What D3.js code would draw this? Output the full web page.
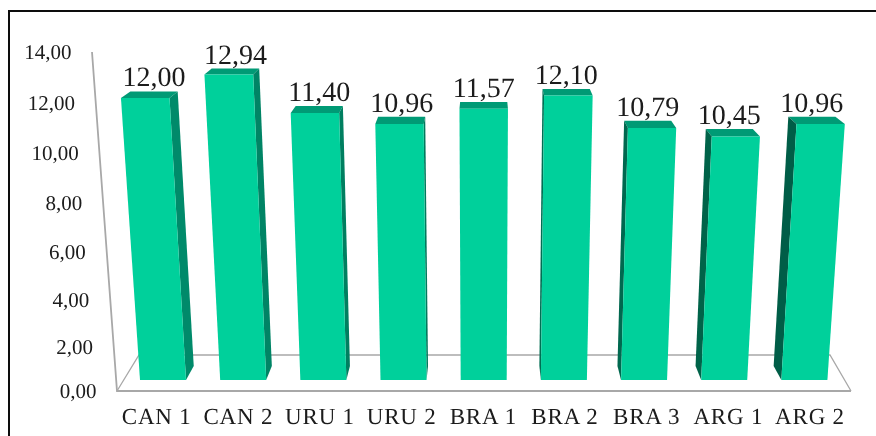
<!DOCTYPE html>
<html>
<head>
<meta charset="utf-8">
<script src="https://cdn.jsdelivr.net/npm/d3@7"></script>
<style>
  html, body { margin: 0; padding: 0; background: #fff; }
  svg { display: block; }
  text { font-family: "Liberation Serif", serif; fill: #1a1a1a; text-rendering: geometricPrecision; }
</style>
</head>
<body>
<svg id="chart"></svg>
<script>
// data //
const categories = ['CAN 1', 'CAN 2', 'URU 1', 'URU 2', 'BRA 1', 'BRA 2', 'BRA 3', 'ARG 1', 'ARG 2']
const values = [12.00, 12.94, 11.40, 10.96, 11.57, 12.10, 10.79, 10.45, 10.96]
const ticks = [0, 2, 4, 6, 8, 10, 12, 14]

const width = 876
const height = 436
const comma = d3.format('.2f')
const label = v => comma(v).replace('.', ',')

const svg = d3.select('#chart')
  .attr('width', width)
  .attr('height', height)

// the reference is a slightly soft scan
svg.append('defs').append('filter')
  .attr('id', 'soft')
  .append('feGaussianBlur')
  .attr('stdDeviation', 0.45)

const main = svg.append('g').attr('filter', 'url(#soft)')

// scales //
const x = d3.scaleBand().domain(categories).range([140, 827.4]).paddingInner(0.426)
const y = d3.scalePow().exponent(1.06).domain([0, 14]).range([380, 48])
const axisY = d3.scalePow().exponent(1.05).domain([0, 14]).range([391, 52])
const axisX = d3.scaleLinear().domain([0, 14]).range([117, 92])
const labelX = d3.scalePoint().domain(categories).range([156.7, 810])

// perspective, the fake 3d camera of the original //
const vanish = { x: 483.5, y: -155 }
const lean = v => 1 + 0.00462 * v
const depth = 0.026
const front = (px, v) => [vanish.x + (px - vanish.x) * lean(v), y(v)]
const back = (px, v) => {
  const [fx, fy] = front(px, v)
  return [fx + (vanish.x - fx) * depth, fy + (vanish.y - fy) * depth]
}
const poly = pts => pts.map(p => p.join(',')).join(' ')

// frame //
main.append('path')
  .attr('d', d3.line()([[9, height + 4], [9, 11], [width + 4, 11]]))
  .attr('fill', 'none')
  .attr('stroke', '#111')
  .attr('stroke-width', 2)

// floor and wall //
const wallColor = '#a8a8a8'
const floorBack = { y: 355, left: 139, right: 830 }
const floorFront = { y: axisY(0), left: axisX(0), right: 851 }

const outline = main.append('g').attr('fill', 'none').attr('stroke', wallColor)
outline.append('path')
  .attr('stroke-width', 1.3)
  .attr('d', d3.line()([
    [floorFront.left, floorFront.y], [floorBack.left, floorBack.y],
    [floorBack.right, floorBack.y], [floorFront.right, floorFront.y]
  ]))
outline.append('path')
  .attr('stroke-width', 1.8)
  .attr('d', d3.line()([[axisX(14), axisY(14)], [axisX(0), axisY(0)], [floorFront.right, floorFront.y]]))

// axis labels //
main.append('g').selectAll('text')
  .data(ticks)
  .enter()
  .append('text')
  .attr('x', d => axisX(d) - 20.5)
  .attr('y', d => axisY(d) + 7)
  .attr('text-anchor', 'end')
  .style('font-size', '21px')
  .text(label)

// bars //
const data = categories.map((name, i) => ({ name, value: values[i] }))
const sideColor = d3.scaleLinear().domain([140, 827]).range(['#008a6a', '#005a43'])

const bar = main.append('g').selectAll('g')
  .data(data)
  .enter()
  .append('g')

bar.append('polygon')
  .attr('fill', '#009a75')
  .attr('points', d => {
    const x0 = x(d.name), x1 = x0 + x.bandwidth()
    return poly([front(x0, d.value), front(x1, d.value), back(x1, d.value), back(x0, d.value)])
  })

bar.append('polygon')
  .attr('fill', d => sideColor(x(d.name)))
  .attr('points', d => {
    const x0 = x(d.name), x1 = x0 + x.bandwidth()
    // side toward the center is the one that shows
    const edge = x1 < vanish.x ? x1 : x0
    return poly([front(edge, 0), back(edge, 0), back(edge, d.value), front(edge, d.value)])
  })
  .style('display', d => {
    const x0 = x(d.name), x1 = x0 + x.bandwidth()
    return (x1 < vanish.x || x0 > vanish.x) ? null : 'none'
  })

bar.append('polygon')
  .attr('fill', '#03d09b')
  .attr('points', d => {
    const x0 = x(d.name), x1 = x0 + x.bandwidth()
    return poly([front(x0, 0), front(x1, 0), front(x1, d.value), front(x0, d.value)])
  })

// value labels //
bar.append('text')
  .attr('x', d => {
    const mid = x(d.name) + x.bandwidth() / 2
    return back(mid, d.value)[0]
  })
  .attr('y', d => back(x(d.name), d.value)[1] - 5)
  .attr('text-anchor', 'middle')
  .style('font-size', '28px')
  .text(d => label(d.value))

// category labels //
main.append('g').selectAll('text')
  .data(categories)
  .enter()
  .append('text')
  .attr('x', d => labelX(d))
  .attr('y', 424)
  .attr('text-anchor', 'middle')
  .style('font-size', '23px')
  .style('letter-spacing', '0.8px')
  .text(d => d)
</script>
</body>
</html>
